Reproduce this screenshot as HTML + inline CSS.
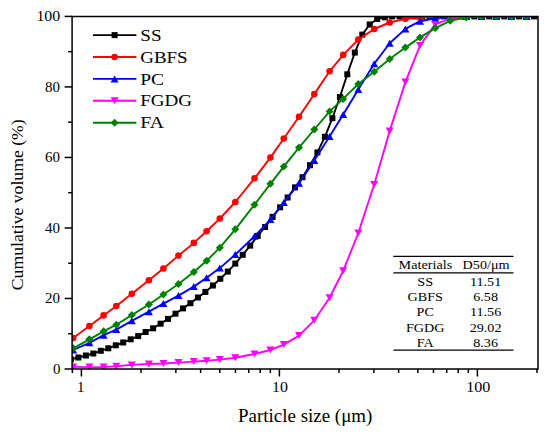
<!DOCTYPE html>
<html><head><meta charset="utf-8"><style>
html,body{margin:0;padding:0;background:#fff;overflow:hidden;width:550px;height:432px;}
svg{display:block;}
text{font-family:"Liberation Serif",serif;fill:#000;}
</style></head><body>
<svg width="550" height="432" viewBox="0 0 550 432">
<defs><clipPath id="pc"><rect x="72.1" y="16.4" width="465.9" height="352.6"/></clipPath></defs>
<rect width="550" height="432" fill="#fff"/>
<g clip-path="url(#pc)">
<polyline points="70.9,359.3 78.4,357.5 85.9,355.5 93.3,353.5 100.8,350.8 108.3,348.3 115.8,345.3 123.2,342.5 130.7,339.3 138.2,336.1 145.6,332.0 153.1,328.3 160.6,323.7 168.0,318.9 175.5,313.7 183.0,308.4 190.4,303.2 197.9,297.5 205.4,291.9 212.9,285.5 220.3,278.8 227.8,271.6 235.3,263.6 242.7,254.8 250.2,245.6 257.7,235.9 265.1,227.0 272.6,216.9 280.1,207.3 287.6,197.5 295.0,187.4 302.5,177.2 310.0,165.2 317.4,152.4 324.9,136.8 332.4,118.2 339.9,97.0 347.3,74.3 354.8,52.6 362.3,34.6 369.7,24.5 377.2,19.0 384.7,17.3 392.1,16.4 399.6,16.4 407.1,16.4 414.5,16.4 422.0,16.4 429.5,16.4 437.0,16.4 444.4,16.4 451.9,16.4 459.4,16.4 466.8,16.4 474.3,16.4 481.8,16.4 489.2,16.4 496.7,16.4 504.2,16.4 511.7,16.4 519.1,16.4 526.6,16.4 534.1,16.4 541.5,16.4" fill="none" stroke="#000" stroke-width="1.9" stroke-linejoin="round"/>
<rect x="67.9" y="356.3" width="6.0" height="6.0" fill="#000"/>
<rect x="75.4" y="354.5" width="6.0" height="6.0" fill="#000"/>
<rect x="82.9" y="352.5" width="6.0" height="6.0" fill="#000"/>
<rect x="90.3" y="350.5" width="6.0" height="6.0" fill="#000"/>
<rect x="97.8" y="347.8" width="6.0" height="6.0" fill="#000"/>
<rect x="105.3" y="345.3" width="6.0" height="6.0" fill="#000"/>
<rect x="112.8" y="342.3" width="6.0" height="6.0" fill="#000"/>
<rect x="120.2" y="339.5" width="6.0" height="6.0" fill="#000"/>
<rect x="127.7" y="336.3" width="6.0" height="6.0" fill="#000"/>
<rect x="135.2" y="333.1" width="6.0" height="6.0" fill="#000"/>
<rect x="142.6" y="329.0" width="6.0" height="6.0" fill="#000"/>
<rect x="150.1" y="325.3" width="6.0" height="6.0" fill="#000"/>
<rect x="157.6" y="320.7" width="6.0" height="6.0" fill="#000"/>
<rect x="165.0" y="315.9" width="6.0" height="6.0" fill="#000"/>
<rect x="172.5" y="310.7" width="6.0" height="6.0" fill="#000"/>
<rect x="180.0" y="305.4" width="6.0" height="6.0" fill="#000"/>
<rect x="187.4" y="300.2" width="6.0" height="6.0" fill="#000"/>
<rect x="194.9" y="294.5" width="6.0" height="6.0" fill="#000"/>
<rect x="202.4" y="288.9" width="6.0" height="6.0" fill="#000"/>
<rect x="209.9" y="282.5" width="6.0" height="6.0" fill="#000"/>
<rect x="217.3" y="275.8" width="6.0" height="6.0" fill="#000"/>
<rect x="224.8" y="268.6" width="6.0" height="6.0" fill="#000"/>
<rect x="232.3" y="260.6" width="6.0" height="6.0" fill="#000"/>
<rect x="239.7" y="251.8" width="6.0" height="6.0" fill="#000"/>
<rect x="247.2" y="242.6" width="6.0" height="6.0" fill="#000"/>
<rect x="254.7" y="232.9" width="6.0" height="6.0" fill="#000"/>
<rect x="262.1" y="224.0" width="6.0" height="6.0" fill="#000"/>
<rect x="269.6" y="213.9" width="6.0" height="6.0" fill="#000"/>
<rect x="277.1" y="204.3" width="6.0" height="6.0" fill="#000"/>
<rect x="284.6" y="194.5" width="6.0" height="6.0" fill="#000"/>
<rect x="292.0" y="184.4" width="6.0" height="6.0" fill="#000"/>
<rect x="299.5" y="174.2" width="6.0" height="6.0" fill="#000"/>
<rect x="307.0" y="162.2" width="6.0" height="6.0" fill="#000"/>
<rect x="314.4" y="149.4" width="6.0" height="6.0" fill="#000"/>
<rect x="321.9" y="133.8" width="6.0" height="6.0" fill="#000"/>
<rect x="329.4" y="115.2" width="6.0" height="6.0" fill="#000"/>
<rect x="336.9" y="94.0" width="6.0" height="6.0" fill="#000"/>
<rect x="344.3" y="71.3" width="6.0" height="6.0" fill="#000"/>
<rect x="351.8" y="49.6" width="6.0" height="6.0" fill="#000"/>
<rect x="359.3" y="31.6" width="6.0" height="6.0" fill="#000"/>
<rect x="366.7" y="21.5" width="6.0" height="6.0" fill="#000"/>
<rect x="374.2" y="16.0" width="6.0" height="6.0" fill="#000"/>
<rect x="381.7" y="14.3" width="6.0" height="6.0" fill="#000"/>
<rect x="389.1" y="13.4" width="6.0" height="6.0" fill="#000"/>
<rect x="396.6" y="13.4" width="6.0" height="6.0" fill="#000"/>
<rect x="404.1" y="13.4" width="6.0" height="6.0" fill="#000"/>
<rect x="411.5" y="13.4" width="6.0" height="6.0" fill="#000"/>
<rect x="419.0" y="13.4" width="6.0" height="6.0" fill="#000"/>
<rect x="426.5" y="13.4" width="6.0" height="6.0" fill="#000"/>
<rect x="434.0" y="13.4" width="6.0" height="6.0" fill="#000"/>
<rect x="441.4" y="13.4" width="6.0" height="6.0" fill="#000"/>
<rect x="448.9" y="13.4" width="6.0" height="6.0" fill="#000"/>
<rect x="456.4" y="13.4" width="6.0" height="6.0" fill="#000"/>
<rect x="463.8" y="13.4" width="6.0" height="6.0" fill="#000"/>
<rect x="471.3" y="13.4" width="6.0" height="6.0" fill="#000"/>
<rect x="478.8" y="13.4" width="6.0" height="6.0" fill="#000"/>
<rect x="486.2" y="13.4" width="6.0" height="6.0" fill="#000"/>
<rect x="493.7" y="13.4" width="6.0" height="6.0" fill="#000"/>
<rect x="501.2" y="13.4" width="6.0" height="6.0" fill="#000"/>
<rect x="508.7" y="13.4" width="6.0" height="6.0" fill="#000"/>
<rect x="516.1" y="13.4" width="6.0" height="6.0" fill="#000"/>
<rect x="523.6" y="13.4" width="6.0" height="6.0" fill="#000"/>
<rect x="531.1" y="13.4" width="6.0" height="6.0" fill="#000"/>
<rect x="538.5" y="13.4" width="6.0" height="6.0" fill="#000"/>
<polyline points="73.2,338.0 89.4,326.0 103.6,315.4 116.3,306.0 131.8,293.8 148.9,280.2 163.4,268.5 178.5,255.6 193.8,242.9 206.6,231.3 219.8,218.6 235.3,202.0 254.5,178.3 270.4,157.6 283.8,138.5 299.0,116.7 314.3,94.1 329.6,71.3 343.2,54.9 358.3,39.6 374.2,29.0 389.7,22.5 405.4,18.8 420.0,17.5 435.3,16.8 450.2,16.4 466.2,16.4 481.5,16.4 496.2,16.4 511.3,16.4 526.5,16.4" fill="none" stroke="#f00" stroke-width="1.9" stroke-linejoin="round"/>
<circle cx="73.2" cy="338.0" r="3.3" fill="#f00"/>
<circle cx="89.4" cy="326.0" r="3.3" fill="#f00"/>
<circle cx="103.6" cy="315.4" r="3.3" fill="#f00"/>
<circle cx="116.3" cy="306.0" r="3.3" fill="#f00"/>
<circle cx="131.8" cy="293.8" r="3.3" fill="#f00"/>
<circle cx="148.9" cy="280.2" r="3.3" fill="#f00"/>
<circle cx="163.4" cy="268.5" r="3.3" fill="#f00"/>
<circle cx="178.5" cy="255.6" r="3.3" fill="#f00"/>
<circle cx="193.8" cy="242.9" r="3.3" fill="#f00"/>
<circle cx="206.6" cy="231.3" r="3.3" fill="#f00"/>
<circle cx="219.8" cy="218.6" r="3.3" fill="#f00"/>
<circle cx="235.3" cy="202.0" r="3.3" fill="#f00"/>
<circle cx="254.5" cy="178.3" r="3.3" fill="#f00"/>
<circle cx="270.4" cy="157.6" r="3.3" fill="#f00"/>
<circle cx="283.8" cy="138.5" r="3.3" fill="#f00"/>
<circle cx="299.0" cy="116.7" r="3.3" fill="#f00"/>
<circle cx="314.3" cy="94.1" r="3.3" fill="#f00"/>
<circle cx="329.6" cy="71.3" r="3.3" fill="#f00"/>
<circle cx="343.2" cy="54.9" r="3.3" fill="#f00"/>
<circle cx="358.3" cy="39.6" r="3.3" fill="#f00"/>
<circle cx="374.2" cy="29.0" r="3.3" fill="#f00"/>
<circle cx="389.7" cy="22.5" r="3.3" fill="#f00"/>
<circle cx="405.4" cy="18.8" r="3.3" fill="#f00"/>
<circle cx="420.0" cy="17.5" r="3.3" fill="#f00"/>
<circle cx="435.3" cy="16.8" r="3.3" fill="#f00"/>
<circle cx="450.2" cy="16.4" r="3.3" fill="#f00"/>
<circle cx="466.2" cy="16.4" r="3.3" fill="#f00"/>
<circle cx="481.5" cy="16.4" r="3.3" fill="#f00"/>
<circle cx="496.2" cy="16.4" r="3.3" fill="#f00"/>
<circle cx="511.3" cy="16.4" r="3.3" fill="#f00"/>
<circle cx="526.5" cy="16.4" r="3.3" fill="#f00"/>
<polyline points="73.2,350.0 89.4,342.8 103.6,335.2 116.3,329.6 131.8,320.8 148.9,311.7 163.4,303.6 178.5,295.6 193.8,286.6 206.6,277.8 219.8,268.1 235.3,254.6 254.5,236.3 270.4,219.6 283.8,202.5 299.0,183.3 314.3,160.6 329.6,136.4 343.2,114.4 358.3,89.6 374.2,63.7 389.7,43.2 405.4,28.9 420.0,21.2 435.3,18.3 450.2,17.4 466.2,16.4 481.5,16.4 496.2,16.4 511.3,16.4 526.5,16.4" fill="none" stroke="#00f" stroke-width="1.9" stroke-linejoin="round"/>
<path d="M73.2 346.5L77.2 353.5L69.2 353.5Z" fill="#00f"/>
<path d="M89.4 339.3L93.4 346.3L85.4 346.3Z" fill="#00f"/>
<path d="M103.6 331.7L107.6 338.7L99.6 338.7Z" fill="#00f"/>
<path d="M116.3 326.1L120.3 333.1L112.3 333.1Z" fill="#00f"/>
<path d="M131.8 317.3L135.8 324.3L127.8 324.3Z" fill="#00f"/>
<path d="M148.9 308.2L152.9 315.2L144.9 315.2Z" fill="#00f"/>
<path d="M163.4 300.1L167.4 307.1L159.4 307.1Z" fill="#00f"/>
<path d="M178.5 292.1L182.5 299.1L174.5 299.1Z" fill="#00f"/>
<path d="M193.8 283.1L197.8 290.1L189.8 290.1Z" fill="#00f"/>
<path d="M206.6 274.3L210.6 281.3L202.6 281.3Z" fill="#00f"/>
<path d="M219.8 264.6L223.8 271.6L215.8 271.6Z" fill="#00f"/>
<path d="M235.3 251.1L239.3 258.1L231.3 258.1Z" fill="#00f"/>
<path d="M254.5 232.8L258.5 239.8L250.5 239.8Z" fill="#00f"/>
<path d="M270.4 216.1L274.4 223.1L266.4 223.1Z" fill="#00f"/>
<path d="M283.8 199.0L287.8 206.0L279.8 206.0Z" fill="#00f"/>
<path d="M299.0 179.8L303.0 186.8L295.0 186.8Z" fill="#00f"/>
<path d="M314.3 157.1L318.3 164.1L310.3 164.1Z" fill="#00f"/>
<path d="M329.6 132.9L333.6 139.9L325.6 139.9Z" fill="#00f"/>
<path d="M343.2 110.9L347.2 117.9L339.2 117.9Z" fill="#00f"/>
<path d="M358.3 86.1L362.3 93.1L354.3 93.1Z" fill="#00f"/>
<path d="M374.2 60.2L378.2 67.2L370.2 67.2Z" fill="#00f"/>
<path d="M389.7 39.7L393.7 46.7L385.7 46.7Z" fill="#00f"/>
<path d="M405.4 25.4L409.4 32.4L401.4 32.4Z" fill="#00f"/>
<path d="M420.0 17.7L424.0 24.7L416.0 24.7Z" fill="#00f"/>
<path d="M435.3 14.8L439.3 21.8L431.3 21.8Z" fill="#00f"/>
<path d="M450.2 13.9L454.2 20.9L446.2 20.9Z" fill="#00f"/>
<path d="M466.2 12.9L470.2 19.9L462.2 19.9Z" fill="#00f"/>
<path d="M481.5 12.9L485.5 19.9L477.5 19.9Z" fill="#00f"/>
<path d="M496.2 12.9L500.2 19.9L492.2 19.9Z" fill="#00f"/>
<path d="M511.3 12.9L515.3 19.9L507.3 19.9Z" fill="#00f"/>
<path d="M526.5 12.9L530.5 19.9L522.5 19.9Z" fill="#00f"/>
<polyline points="73.2,366.9 89.4,367.1 103.6,367.1 116.3,366.3 131.8,364.9 148.9,364.0 163.4,363.5 178.5,362.6 193.8,361.6 206.6,360.7 219.8,359.6 235.3,357.8 254.5,354.0 270.4,350.0 283.8,344.6 299.0,335.6 314.3,320.3 329.6,297.8 343.2,270.8 358.3,233.0 374.2,184.5 389.7,131.0 405.4,82.1 420.0,45.6 435.3,24.4 450.2,18.6 466.2,16.8 481.5,16.4 496.2,16.4 511.3,16.4 526.5,16.4" fill="none" stroke="#f0f" stroke-width="1.9" stroke-linejoin="round"/>
<path d="M69.2 363.4L77.2 363.4L73.2 370.4Z" fill="#f0f"/>
<path d="M85.4 363.6L93.4 363.6L89.4 370.6Z" fill="#f0f"/>
<path d="M99.6 363.6L107.6 363.6L103.6 370.6Z" fill="#f0f"/>
<path d="M112.3 362.8L120.3 362.8L116.3 369.8Z" fill="#f0f"/>
<path d="M127.8 361.4L135.8 361.4L131.8 368.4Z" fill="#f0f"/>
<path d="M144.9 360.5L152.9 360.5L148.9 367.5Z" fill="#f0f"/>
<path d="M159.4 360.0L167.4 360.0L163.4 367.0Z" fill="#f0f"/>
<path d="M174.5 359.1L182.5 359.1L178.5 366.1Z" fill="#f0f"/>
<path d="M189.8 358.1L197.8 358.1L193.8 365.1Z" fill="#f0f"/>
<path d="M202.6 357.2L210.6 357.2L206.6 364.2Z" fill="#f0f"/>
<path d="M215.8 356.1L223.8 356.1L219.8 363.1Z" fill="#f0f"/>
<path d="M231.3 354.3L239.3 354.3L235.3 361.3Z" fill="#f0f"/>
<path d="M250.5 350.5L258.5 350.5L254.5 357.5Z" fill="#f0f"/>
<path d="M266.4 346.5L274.4 346.5L270.4 353.5Z" fill="#f0f"/>
<path d="M279.8 341.1L287.8 341.1L283.8 348.1Z" fill="#f0f"/>
<path d="M295.0 332.1L303.0 332.1L299.0 339.1Z" fill="#f0f"/>
<path d="M310.3 316.8L318.3 316.8L314.3 323.8Z" fill="#f0f"/>
<path d="M325.6 294.3L333.6 294.3L329.6 301.3Z" fill="#f0f"/>
<path d="M339.2 267.3L347.2 267.3L343.2 274.3Z" fill="#f0f"/>
<path d="M354.3 229.5L362.3 229.5L358.3 236.5Z" fill="#f0f"/>
<path d="M370.2 181.0L378.2 181.0L374.2 188.0Z" fill="#f0f"/>
<path d="M385.7 127.5L393.7 127.5L389.7 134.5Z" fill="#f0f"/>
<path d="M401.4 78.6L409.4 78.6L405.4 85.6Z" fill="#f0f"/>
<path d="M416.0 42.1L424.0 42.1L420.0 49.1Z" fill="#f0f"/>
<path d="M431.3 20.9L439.3 20.9L435.3 27.9Z" fill="#f0f"/>
<path d="M446.2 15.1L454.2 15.1L450.2 22.1Z" fill="#f0f"/>
<path d="M462.2 13.3L470.2 13.3L466.2 20.3Z" fill="#f0f"/>
<path d="M477.5 12.9L485.5 12.9L481.5 19.9Z" fill="#f0f"/>
<path d="M492.2 12.9L500.2 12.9L496.2 19.9Z" fill="#f0f"/>
<path d="M507.3 12.9L515.3 12.9L511.3 19.9Z" fill="#f0f"/>
<path d="M522.5 12.9L530.5 12.9L526.5 19.9Z" fill="#f0f"/>
<polyline points="73.2,348.3 89.4,339.3 103.6,331.3 116.3,324.7 131.8,315.1 148.9,304.5 163.4,294.5 178.5,284.0 193.8,272.0 206.6,260.8 219.8,247.7 235.3,229.3 254.5,204.7 270.4,183.8 283.8,166.6 299.0,147.6 314.3,129.5 329.6,111.4 343.2,98.9 358.3,84.0 374.2,71.8 389.7,59.1 405.4,47.6 420.0,37.4 435.3,28.1 450.2,20.8 466.2,17.6 481.5,16.4 496.2,16.4 511.3,16.4 526.5,16.4" fill="none" stroke="#008000" stroke-width="1.9" stroke-linejoin="round"/>
<path d="M73.2 344.3L77.2 348.3L73.2 352.3L69.2 348.3Z" fill="#008000"/>
<path d="M89.4 335.3L93.4 339.3L89.4 343.3L85.4 339.3Z" fill="#008000"/>
<path d="M103.6 327.3L107.6 331.3L103.6 335.3L99.6 331.3Z" fill="#008000"/>
<path d="M116.3 320.7L120.3 324.7L116.3 328.7L112.3 324.7Z" fill="#008000"/>
<path d="M131.8 311.1L135.8 315.1L131.8 319.1L127.8 315.1Z" fill="#008000"/>
<path d="M148.9 300.5L152.9 304.5L148.9 308.5L144.9 304.5Z" fill="#008000"/>
<path d="M163.4 290.5L167.4 294.5L163.4 298.5L159.4 294.5Z" fill="#008000"/>
<path d="M178.5 280.0L182.5 284.0L178.5 288.0L174.5 284.0Z" fill="#008000"/>
<path d="M193.8 268.0L197.8 272.0L193.8 276.0L189.8 272.0Z" fill="#008000"/>
<path d="M206.6 256.8L210.6 260.8L206.6 264.8L202.6 260.8Z" fill="#008000"/>
<path d="M219.8 243.7L223.8 247.7L219.8 251.7L215.8 247.7Z" fill="#008000"/>
<path d="M235.3 225.3L239.3 229.3L235.3 233.3L231.3 229.3Z" fill="#008000"/>
<path d="M254.5 200.7L258.5 204.7L254.5 208.7L250.5 204.7Z" fill="#008000"/>
<path d="M270.4 179.8L274.4 183.8L270.4 187.8L266.4 183.8Z" fill="#008000"/>
<path d="M283.8 162.6L287.8 166.6L283.8 170.6L279.8 166.6Z" fill="#008000"/>
<path d="M299.0 143.6L303.0 147.6L299.0 151.6L295.0 147.6Z" fill="#008000"/>
<path d="M314.3 125.5L318.3 129.5L314.3 133.5L310.3 129.5Z" fill="#008000"/>
<path d="M329.6 107.4L333.6 111.4L329.6 115.4L325.6 111.4Z" fill="#008000"/>
<path d="M343.2 94.9L347.2 98.9L343.2 102.9L339.2 98.9Z" fill="#008000"/>
<path d="M358.3 80.0L362.3 84.0L358.3 88.0L354.3 84.0Z" fill="#008000"/>
<path d="M374.2 67.8L378.2 71.8L374.2 75.8L370.2 71.8Z" fill="#008000"/>
<path d="M389.7 55.1L393.7 59.1L389.7 63.1L385.7 59.1Z" fill="#008000"/>
<path d="M405.4 43.6L409.4 47.6L405.4 51.6L401.4 47.6Z" fill="#008000"/>
<path d="M420.0 33.4L424.0 37.4L420.0 41.4L416.0 37.4Z" fill="#008000"/>
<path d="M435.3 24.1L439.3 28.1L435.3 32.1L431.3 28.1Z" fill="#008000"/>
<path d="M450.2 16.8L454.2 20.8L450.2 24.8L446.2 20.8Z" fill="#008000"/>
<path d="M466.2 13.6L470.2 17.6L466.2 21.6L462.2 17.6Z" fill="#008000"/>
<path d="M481.5 12.4L485.5 16.4L481.5 20.4L477.5 16.4Z" fill="#008000"/>
<path d="M496.2 12.4L500.2 16.4L496.2 20.4L492.2 16.4Z" fill="#008000"/>
<path d="M511.3 12.4L515.3 16.4L511.3 20.4L507.3 16.4Z" fill="#008000"/>
<path d="M526.5 12.4L530.5 16.4L526.5 20.4L522.5 16.4Z" fill="#008000"/>
</g>
<path d="M72.1 16.4H538.0V369.0H72.1Z" fill="none" stroke="#000" stroke-width="1.5" stroke-linejoin="miter"/>
<line x1="64.6" y1="369.00" x2="72.1" y2="369.00" stroke="#000" stroke-width="1.5"/>
<line x1="68.1" y1="333.74" x2="72.1" y2="333.74" stroke="#000" stroke-width="1.5"/>
<line x1="64.6" y1="298.48" x2="72.1" y2="298.48" stroke="#000" stroke-width="1.5"/>
<line x1="68.1" y1="263.22" x2="72.1" y2="263.22" stroke="#000" stroke-width="1.5"/>
<line x1="64.6" y1="227.96" x2="72.1" y2="227.96" stroke="#000" stroke-width="1.5"/>
<line x1="68.1" y1="192.70" x2="72.1" y2="192.70" stroke="#000" stroke-width="1.5"/>
<line x1="64.6" y1="157.44" x2="72.1" y2="157.44" stroke="#000" stroke-width="1.5"/>
<line x1="68.1" y1="122.18" x2="72.1" y2="122.18" stroke="#000" stroke-width="1.5"/>
<line x1="64.6" y1="86.92" x2="72.1" y2="86.92" stroke="#000" stroke-width="1.5"/>
<line x1="68.1" y1="51.66" x2="72.1" y2="51.66" stroke="#000" stroke-width="1.5"/>
<line x1="64.6" y1="16.40" x2="72.1" y2="16.40" stroke="#000" stroke-width="1.5"/>
<line x1="72.34" y1="369.0" x2="72.34" y2="373.0" stroke="#000" stroke-width="1.5"/>
<line x1="81.40" y1="369.0" x2="81.40" y2="376.5" stroke="#000" stroke-width="1.5"/>
<line x1="141.00" y1="369.0" x2="141.00" y2="373.0" stroke="#000" stroke-width="1.5"/>
<line x1="175.87" y1="369.0" x2="175.87" y2="373.0" stroke="#000" stroke-width="1.5"/>
<line x1="200.61" y1="369.0" x2="200.61" y2="373.0" stroke="#000" stroke-width="1.5"/>
<line x1="219.80" y1="369.0" x2="219.80" y2="373.0" stroke="#000" stroke-width="1.5"/>
<line x1="235.47" y1="369.0" x2="235.47" y2="373.0" stroke="#000" stroke-width="1.5"/>
<line x1="248.73" y1="369.0" x2="248.73" y2="373.0" stroke="#000" stroke-width="1.5"/>
<line x1="260.21" y1="369.0" x2="260.21" y2="373.0" stroke="#000" stroke-width="1.5"/>
<line x1="270.34" y1="369.0" x2="270.34" y2="373.0" stroke="#000" stroke-width="1.5"/>
<line x1="279.40" y1="369.0" x2="279.40" y2="376.5" stroke="#000" stroke-width="1.5"/>
<line x1="339.00" y1="369.0" x2="339.00" y2="373.0" stroke="#000" stroke-width="1.5"/>
<line x1="373.87" y1="369.0" x2="373.87" y2="373.0" stroke="#000" stroke-width="1.5"/>
<line x1="398.61" y1="369.0" x2="398.61" y2="373.0" stroke="#000" stroke-width="1.5"/>
<line x1="417.80" y1="369.0" x2="417.80" y2="373.0" stroke="#000" stroke-width="1.5"/>
<line x1="433.47" y1="369.0" x2="433.47" y2="373.0" stroke="#000" stroke-width="1.5"/>
<line x1="446.73" y1="369.0" x2="446.73" y2="373.0" stroke="#000" stroke-width="1.5"/>
<line x1="458.21" y1="369.0" x2="458.21" y2="373.0" stroke="#000" stroke-width="1.5"/>
<line x1="468.34" y1="369.0" x2="468.34" y2="373.0" stroke="#000" stroke-width="1.5"/>
<line x1="477.40" y1="369.0" x2="477.40" y2="376.5" stroke="#000" stroke-width="1.5"/>
<line x1="537.00" y1="369.0" x2="537.00" y2="373.0" stroke="#000" stroke-width="1.5"/>
<text x="53.00" y="373.70" font-family="Liberation Serif, serif" font-size="15">0</text>
<text x="45.10" y="303.18" font-family="Liberation Serif, serif" font-size="15">20</text>
<text x="45.10" y="232.66" font-family="Liberation Serif, serif" font-size="15">40</text>
<text x="45.10" y="162.14" font-family="Liberation Serif, serif" font-size="15">60</text>
<text x="45.10" y="91.62" font-family="Liberation Serif, serif" font-size="15">80</text>
<text x="36.40" y="21.10" font-family="Liberation Serif, serif" font-size="15" textLength="23.85" lengthAdjust="spacingAndGlyphs">100</text>
<text x="77.00" y="391.50" font-family="Liberation Serif, serif" font-size="15">1</text>
<text x="272.00" y="391.50" font-family="Liberation Serif, serif" font-size="15" textLength="15.90" lengthAdjust="spacingAndGlyphs">10</text>
<text x="466.26" y="391.50" font-family="Liberation Serif, serif" font-size="15" textLength="24.08" lengthAdjust="spacingAndGlyphs">100</text>
<text x="238.10" y="421.70" font-family="Liberation Serif, serif" font-size="18" textLength="134.24" lengthAdjust="spacingAndGlyphs">Particle size (&#956;m)</text>
<text transform="translate(22.7,290.2) rotate(-90)" x="0" y="0" font-family="Liberation Serif, serif" font-size="17.7">Cumulative volume (%)</text>
<line x1="93" y1="35.1" x2="136.4" y2="35.1" stroke="#000" stroke-width="1.9"/>
<rect x="111.6" y="32.1" width="6.0" height="6.0" fill="#000"/>
<text x="140.28" y="41.00" font-family="Liberation Serif, serif" font-size="17" textLength="21.27" lengthAdjust="spacingAndGlyphs">SS</text>
<line x1="93" y1="57.0" x2="136.4" y2="57.0" stroke="#f00" stroke-width="1.9"/>
<circle cx="114.6" cy="57.0" r="3.3" fill="#f00"/>
<text x="140.29" y="62.80" font-family="Liberation Serif, serif" font-size="17" textLength="47.29" lengthAdjust="spacingAndGlyphs">GBFS</text>
<line x1="93" y1="78.9" x2="136.4" y2="78.9" stroke="#00f" stroke-width="1.9"/>
<path d="M114.6 75.4L118.6 82.4L110.6 82.4Z" fill="#00f"/>
<text x="140.25" y="84.60" font-family="Liberation Serif, serif" font-size="17" textLength="23.86" lengthAdjust="spacingAndGlyphs">PC</text>
<line x1="93" y1="100.8" x2="136.4" y2="100.8" stroke="#f0f" stroke-width="1.9"/>
<path d="M110.6 97.3L118.6 97.3L114.6 104.3Z" fill="#f0f"/>
<text x="140.28" y="106.40" font-family="Liberation Serif, serif" font-size="17" textLength="51.86" lengthAdjust="spacingAndGlyphs">FGDG</text>
<line x1="93" y1="122.7" x2="136.4" y2="122.7" stroke="#008000" stroke-width="1.9"/>
<path d="M114.6 118.7L118.6 122.7L114.6 126.7L110.6 122.7Z" fill="#008000"/>
<text x="140.24" y="128.20" font-family="Liberation Serif, serif" font-size="17" textLength="23.82" lengthAdjust="spacingAndGlyphs">FA</text>
<line x1="393.3" y1="256.4" x2="513.5" y2="256.4" stroke="#000" stroke-width="1.3"/>
<line x1="393.3" y1="272.8" x2="513.5" y2="272.8" stroke="#000" stroke-width="1.3"/>
<line x1="393.3" y1="350.1" x2="513.5" y2="350.1" stroke="#000" stroke-width="1.3"/>
<text x="425.40" y="269.10" font-family="Liberation Serif, serif" font-size="13" textLength="53.52" lengthAdjust="spacingAndGlyphs" text-anchor="middle">Materials</text>
<text x="486.10" y="269.10" font-family="Liberation Serif, serif" font-size="13" textLength="46.97" lengthAdjust="spacingAndGlyphs" text-anchor="middle">D50/&#956;m</text>
<text x="425.20" y="286.00" font-family="Liberation Serif, serif" font-size="13" textLength="15.77" lengthAdjust="spacingAndGlyphs" text-anchor="middle">SS</text>
<text x="485.60" y="286.00" font-family="Liberation Serif, serif" font-size="13" textLength="31.36" lengthAdjust="spacingAndGlyphs" text-anchor="middle">11.51</text>
<text x="425.20" y="301.20" font-family="Liberation Serif, serif" font-size="13" textLength="35.46" lengthAdjust="spacingAndGlyphs" text-anchor="middle">GBFS</text>
<text x="485.60" y="301.20" font-family="Liberation Serif, serif" font-size="13" textLength="24.80" lengthAdjust="spacingAndGlyphs" text-anchor="middle">6.58</text>
<text x="425.20" y="316.40" font-family="Liberation Serif, serif" font-size="13" textLength="17.33" lengthAdjust="spacingAndGlyphs" text-anchor="middle">PC</text>
<text x="485.60" y="316.40" font-family="Liberation Serif, serif" font-size="13" textLength="31.36" lengthAdjust="spacingAndGlyphs" text-anchor="middle">11.56</text>
<text x="425.20" y="331.60" font-family="Liberation Serif, serif" font-size="13" textLength="38.59" lengthAdjust="spacingAndGlyphs" text-anchor="middle">FGDG</text>
<text x="485.60" y="331.60" font-family="Liberation Serif, serif" font-size="13" textLength="31.88" lengthAdjust="spacingAndGlyphs" text-anchor="middle">29.02</text>
<text x="425.20" y="346.80" font-family="Liberation Serif, serif" font-size="13" textLength="17.06" lengthAdjust="spacingAndGlyphs" text-anchor="middle">FA</text>
<text x="485.60" y="346.80" font-family="Liberation Serif, serif" font-size="13" textLength="24.80" lengthAdjust="spacingAndGlyphs" text-anchor="middle">8.36</text>
</svg>
</body></html>
